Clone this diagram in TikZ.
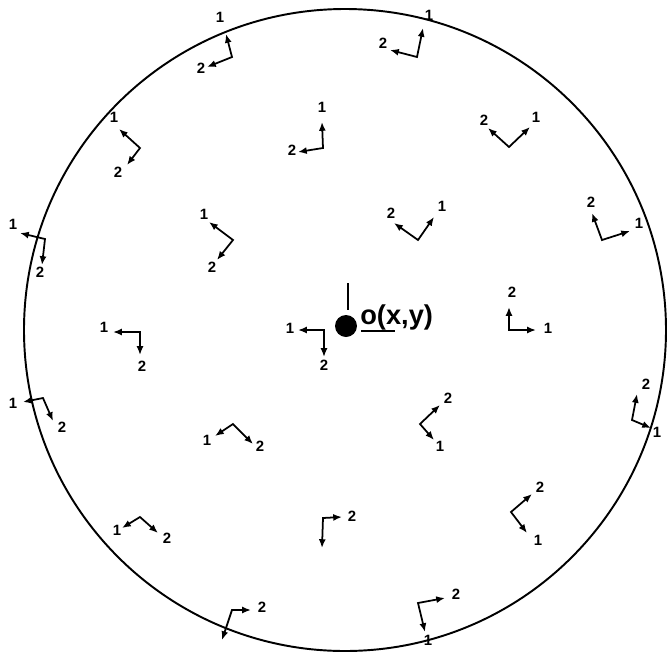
\documentclass[tikz,border=0pt]{standalone}
\usepackage{fontspec}
\setmainfont{Liberation Sans}
\usetikzlibrary{arrows.meta}

\begin{document}
\begin{tikzpicture}[
    x=0.02cm, y=-0.02cm,
    vec/.style={<->, >={Latex[length=5pt,width=4pt]}, line width=1pt, line join=miter},
    num/.style={inner sep=0pt, font=\fontsize{8.5}{9}\selectfont\bfseries},
    rim/.style={line width=1.1pt},
    dot/.style={circle, fill=black, inner sep=0pt, minimum size=0.44cm}
]
\useasboundingbox (0,0) rectangle (667,657);
\coordinate (C) at (345,330);
\draw[rim] (C) circle[radius=321];

\node[dot] (O) at (346,326) {};
\node[inner sep=0pt, anchor=west, font=\fontsize{15.5}{17}\selectfont\bfseries] (Olab) at (360,317) {o(x,y)};
\draw[line width=1pt] (348,283) -- (348,310);
\draw[line width=1pt] (361,331) -- (395,331);

\coordinate (f1) at (232,57); \coordinate (f1a) at (226,34); \coordinate (f1b) at (207,67);
\draw[vec] (f1a) -- (f1) -- (f1b);
\node[num] (n1a) at (220,17) {1}; \node[num] (n1b) at (201,68) {2};

\coordinate (f2) at (417,57); \coordinate (f2a) at (423,28); \coordinate (f2b) at (390,50);
\draw[vec] (f2a) -- (f2) -- (f2b);
\node[num] (n2a) at (429,15) {1}; \node[num] (n2b) at (383,43) {2};

\coordinate (f3) at (140,148); \coordinate (f3a) at (119,129); \coordinate (f3b) at (127,165);
\draw[vec] (f3a) -- (f3) -- (f3b);
\node[num] (n3a) at (114,117) {1}; \node[num] (n3b) at (118,172) {2};

\coordinate (f4) at (323,148); \coordinate (f4a) at (322,122); \coordinate (f4b) at (298,152);
\draw[vec] (f4a) -- (f4) -- (f4b);
\node[num] (n4a) at (322,107) {1}; \node[num] (n4b) at (292,150) {2};

\coordinate (f5) at (509,147); \coordinate (f5a) at (530,127); \coordinate (f5b) at (488,128);
\draw[vec] (f5a) -- (f5) -- (f5b);
\node[num] (n5a) at (536,117) {1}; \node[num] (n5b) at (484,120) {2};

\coordinate (f6) at (45,239); \coordinate (f6a) at (20,233); \coordinate (f6b) at (42,265);
\draw[vec] (f6a) -- (f6) -- (f6b);
\node[num] (n6a) at (13,224) {1}; \node[num] (n6b) at (40,272) {2};

\coordinate (f7) at (233,240); \coordinate (f7a) at (209,222); \coordinate (f7b) at (217,260);
\draw[vec] (f7a) -- (f7) -- (f7b);
\node[num] (n7a) at (204,214) {1}; \node[num] (n7b) at (212,267) {2};

\coordinate (f8) at (418,240); \coordinate (f8a) at (434,217); \coordinate (f8b) at (394,223);
\draw[vec] (f8a) -- (f8) -- (f8b);
\node[num] (n8a) at (442,206) {1}; \node[num] (n8b) at (391,213) {2};

\coordinate (f9) at (602,240); \coordinate (f9a) at (630,231); \coordinate (f9b) at (592,213);
\draw[vec] (f9a) -- (f9) -- (f9b);
\node[num] (n9a) at (639,223) {1}; \node[num] (n9b) at (591,202) {2};

\coordinate (f10) at (324,330); \coordinate (f10a) at (298,330); \coordinate (f10b) at (324,357);
\draw[vec] (f10a) -- (f10) -- (f10b);
\node[num] (n10a) at (290,328) {1}; \node[num] (n10b) at (324,365) {2};

\coordinate (f11) at (140,332); \coordinate (f11a) at (113,332); \coordinate (f11b) at (140,355);
\draw[vec] (f11a) -- (f11) -- (f11b);
\node[num] (n11a) at (104,327) {1}; \node[num] (n11b) at (142,366) {2};

\coordinate (f12) at (509,330); \coordinate (f12a) at (536,330); \coordinate (f12b) at (509,307);
\draw[vec] (f12a) -- (f12) -- (f12b);
\node[num] (n12a) at (548,328) {1}; \node[num] (n12b) at (512,292) {2};

\coordinate (f13) at (632,420); \coordinate (f13a) at (651,428); \coordinate (f13b) at (637,394);
\draw[vec] (f13a) -- (f13) -- (f13b);
\node[num] (n13a) at (657,432) {1}; \node[num] (n13b) at (646,384) {2};

\coordinate (f14) at (43,398); \coordinate (f14a) at (23,402); \coordinate (f14b) at (53,421);
\draw[vec] (f14a) -- (f14) -- (f14b);
\node[num] (n14a) at (13,403) {1}; \node[num] (n14b) at (62,427) {2};

\coordinate (f15) at (233,424); \coordinate (f15a) at (215,436); \coordinate (f15b) at (253,444);
\draw[vec] (f15a) -- (f15) -- (f15b);
\node[num] (n15a) at (207,440) {1}; \node[num] (n15b) at (260,446) {2};

\coordinate (f16) at (420,424); \coordinate (f16a) at (434,440); \coordinate (f16b) at (440,405);
\draw[vec] (f16a) -- (f16) -- (f16b);
\node[num] (n16a) at (440,446) {1}; \node[num] (n16b) at (448,398) {2};

\coordinate (f17) at (140,517); \coordinate (f17a) at (122,528); \coordinate (f17b) at (158,533);
\draw[vec] (f17a) -- (f17) -- (f17b);
\node[num] (n17a) at (117,530) {1}; \node[num] (n17b) at (167,538) {2};

\coordinate (f18) at (323,518); \coordinate (f18a) at (322,548); \coordinate (f18b) at (342,517);
\draw[vec] (f18a) -- (f18) -- (f18b);
\node[num] (n18b) at (352,516) {2};

\coordinate (f19) at (511,512); \coordinate (f19a) at (527,533); \coordinate (f19b) at (532,494);
\draw[vec] (f19a) -- (f19) -- (f19b);
\node[num] (n19a) at (538,540) {1}; \node[num] (n19b) at (540,487) {2};

\coordinate (f20) at (232,610); \coordinate (f20a) at (222,640); \coordinate (f20b) at (251,610);
\draw[vec] (f20a) -- (f20) -- (f20b);
\node[num] (n20b) at (262,607) {2};

\coordinate (f21) at (418,603); \coordinate (f21a) at (425,632); \coordinate (f21b) at (445,598);
\draw[vec] (f21a) -- (f21) -- (f21b);
\node[num] (n21a) at (428,640) {1}; \node[num] (n21b) at (456,594) {2};
\end{tikzpicture}
\end{document}
